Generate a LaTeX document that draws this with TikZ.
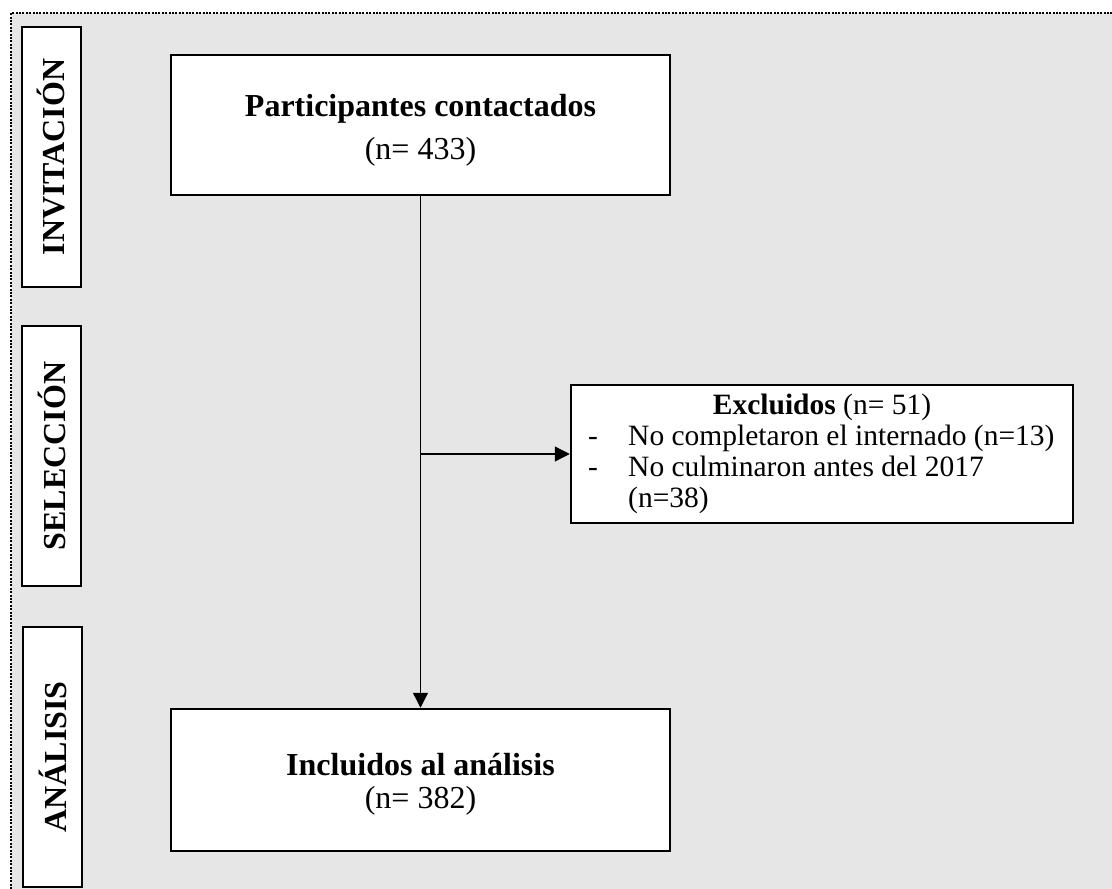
\documentclass[tikz,border=0pt]{standalone}
\usepackage{fontspec}
\setmainfont{Liberation Serif}
\usetikzlibrary{arrows.meta}
\definecolor{bggray}{HTML}{E6E6E6}
\begin{document}
\begin{tikzpicture}[x=1pt,y=-1pt,
  box/.style={draw=black, fill=white, line width=2.5pt, inner sep=0pt},
  phase/.style={draw=black, fill=white, line width=2pt, inner sep=0pt, rotate=90,
     minimum width=260, minimum height=59, font=\fontsize{32}{36}\selectfont\bfseries},
  txt/.style={inner sep=0pt, font=\fontsize{32}{36}\selectfont},
  stxt/.style={inner sep=0pt, font=\fontsize{29.5}{31}\selectfont},
  conn/.style={line width=1.3pt, -{Triangle[length=15pt,width=15pt]}}]
\useasboundingbox (0,0) rectangle (1112,889);
\fill[bggray] (11,13) rectangle (1112,889);
\draw[line width=2.2pt, dash pattern=on 2pt off 1.4pt] (11,889) -- (11,13) -- (1112,13);

% phase labels
\node[phase] (inv) at (51.5,157) {INVITACIÓN};
\node[phase] (sel) at (51.5,456) {SELECCIÓN};
\node[phase] (ana) at (52.5,757) {ANÁLISIS};

% main boxes
\node[box, minimum width=499, minimum height=140] (part) at (420.5,125) {};
\node[txt] (part1) at (420.5,109) {\textbf{Participantes contactados}};
\node[txt] (part2) at (420.5,152) {(n= 433)};

\node[box, minimum width=499, minimum height=142] (inc) at (420.5,780) {};
\node[txt] (inc1) at (420.5,765) {\textbf{Incluidos al análisis}};
\node[txt] (inc2) at (420.5,801) {(n= 382)};

\node[box, minimum width=502, minimum height=138] (exc) at (822,454) {};
\node[stxt, anchor=base] (exc1) at (822,414) {\textbf{Excluidos} (n= 51)};
\node[stxt, anchor=base west] (dash1) at (588,445) {-};
\node[stxt, anchor=base west] (exc2) at (628,445) {No completaron el internado (n=13)};
\node[stxt, anchor=base west] (dash2) at (588,476) {-};
\node[stxt, anchor=base west] (exc3) at (628,476) {No culminaron antes del 2017};
\node[stxt, anchor=base west] (exc4) at (628,507) {(n=38)};

% connectors
\coordinate (split) at (part.south |- exc.west);
\draw[conn] (part.south) -- (inc.north);
\draw[conn] (split) -- (exc.west);
\end{tikzpicture}
\end{document}
